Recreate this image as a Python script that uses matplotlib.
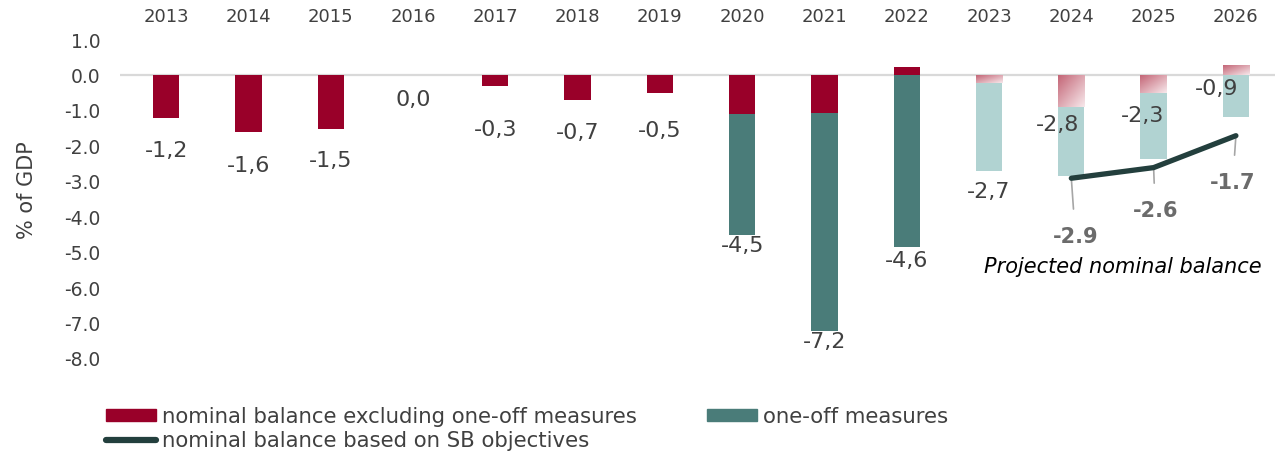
import numpy as np
import matplotlib.pyplot as plt
from matplotlib.colors import LinearSegmentedColormap
from matplotlib.patches import Patch
from matplotlib.lines import Line2D

years = [2013, 2014, 2015, 2016, 2017, 2018, 2019, 2020, 2021, 2022, 2023, 2024, 2025, 2026]
excl_oneoff = [-1.2, -1.6, -1.5, 0.0, -0.3, -0.7, -0.5, -1.1, -1.05, 0.25, -0.2, -0.88, -0.5, 0.28]
oneoff = [0, 0, 0, 0, 0, 0, 0, -3.4, -6.15, -4.85, -2.5, -1.96, -1.85, -1.17]
total_labels = ['-1,2', '-1,6', '-1,5', '0,0', '-0,3', '-0,7', '-0,5',
                '-4,5', '-7,2', '-4,6', '-2,7', '-2,8', '-2,3', '-0,9']
sb_years = [2024, 2025, 2026]
sb_balance = [-2.9, -2.6, -1.7]
first_projected = 2023

# where excel put the total labels (data units, relative to bar centre)
lab_dx = [0, 0, 0, 0, 0, 0, 0, 0, 0, 0, 0, -0.17, -0.13, -0.23]
lab_y = [-2.14, -2.56, -2.42, -0.68, -1.55, -1.61, -1.58, -4.82, -7.52, -5.24, -3.30, -1.41, -1.15, -0.39]
sb_lab = [(0.05, -4.56), (0.02, -3.83), (-0.04, -3.04)]

RED = '#990029'
TEAL = '#4a7c79'
LTEAL = '#b1d3d2'
DARK = '#233f3d'
TXT = '#404040'

plt.rcParams['font.family'] = 'DejaVu Sans'

fig = plt.figure(figsize=(12.86, 4.55), dpi=100)
ax = fig.add_axes([120/1286, 1-359/455, 1155/1286, 319/455])

x = np.arange(len(years))
w = 0.32
pink = LinearSegmentedColormap.from_list('pink', ['#c46677', '#f7e8eb'])
grad = (np.linspace(0, 1, 60)[:, None] + np.linspace(0, 1, 30)[None, :]) / 2

for i in range(len(years)):
	proj = years[i] >= first_projected
	bottom = min(excl_oneoff[i], 0)
	if proj:
		y0, y1 = sorted([0, excl_oneoff[i]])
		ax.imshow(grad, extent=[x[i]-w/2, x[i]+w/2, y0, y1], cmap=pink,
				  aspect='auto', zorder=2, interpolation='bilinear')
		ax.bar(x[i], oneoff[i], w, bottom=bottom, color=LTEAL, zorder=2)
	else:
		ax.bar(x[i], excl_oneoff[i], w, color=RED, zorder=2)
		ax.bar(x[i], oneoff[i], w, bottom=bottom, color=TEAL, zorder=2)
	ax.text(x[i]+lab_dx[i], lab_y[i], total_labels[i], ha='center', va='center',
			fontsize=16, color=TXT)

xs = [years.index(y) for y in sb_years]
ax.plot(xs, sb_balance, color=DARK, lw=3.8, solid_capstyle='round', zorder=4)
for j in range(len(xs)):
	dx, ly = sb_lab[j]
	ax.annotate('%.1f' % sb_balance[j], xy=(xs[j], sb_balance[j]), xytext=(xs[j]+dx, ly),
				ha='center', va='center', fontsize=15, fontweight='bold', color='#6b6b6b',
				arrowprops=dict(arrowstyle='-', color='#a6a6a6', lw=1.2, shrinkA=11, shrinkB=0),
				zorder=3)
ax.text(11.63, -5.41, 'Projected nominal balance', ha='center', va='center',
		fontsize=15, style='italic', color='black')

ax.axhline(0, color='#d9d9d9', lw=1.6, zorder=1)
ax.set_xlim(-0.56, 13.475)
ax.set_ylim(-8, 1)
ax.set_xticks(x)
ax.set_xticklabels([str(y) for y in years], fontsize=13, color=TXT)
ax.xaxis.tick_top()
ax.tick_params(axis='x', length=0, pad=10)
yt = np.arange(-8, 2)
ax.set_yticks(yt)
ax.set_yticklabels(['%.1f' % v for v in yt], fontsize=13.5, color=TXT)
ax.tick_params(axis='y', length=0, pad=14)
ax.set_ylabel('% of GDP', fontsize=15, color=TXT)
ax.yaxis.set_label_coords(-0.0715, 0.53)
for s in ax.spines.values():
	s.set_visible(False)

handles = [Patch(color=RED), Line2D([], [], color=DARK, lw=4.5, solid_capstyle='round'), Patch(color=TEAL)]
labels = ['nominal balance excluding one-off measures', 'nominal balance based on SB objectives', 'one-off measures']
fig.legend(handles, labels, ncol=2, loc='upper left', bbox_to_anchor=(95/1286, 1-396/455),
		   frameon=False, fontsize=15.3, labelcolor=TXT, handlelength=2.35, handleheight=0.52,
		   handletextpad=0.3, columnspacing=3.3, labelspacing=0.22, borderpad=0)

plt.savefig('out.png', dpi=100)
